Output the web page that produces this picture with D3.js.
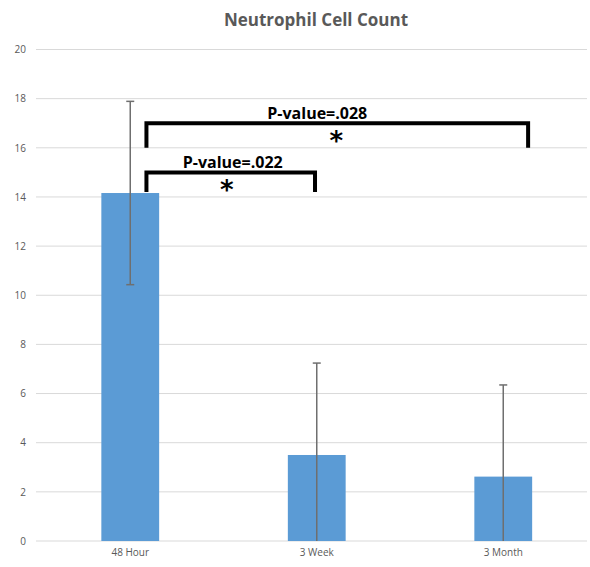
<!DOCTYPE html>
<html><head><meta charset="utf-8">
<script src="https://cdn.jsdelivr.net/npm/d3@7"></script>
<style>body{margin:0;background:#fff}svg{display:block}</style>
</head><body><svg id="c" width="590" height="567"></svg>
<script>
const categories = ["48 Hour", "3 Week", "3 Month"];
const values = [14.16, 3.5, 2.62];
const errors = [3.73, 3.74, 3.73];
const yTicks = [0, 2, 4, 6, 8, 10, 12, 14, 16, 18, 20];
const compFrom = ["48 Hour", "48 Hour"];
const compTo = ["3 Month", "3 Week"];
const compLabels = ["P-value=.028", "P-value=.022"];
const compLevel = [17.0, 15.0];
const compLegEnd = [16.0, 14.2];

const svg = d3.select("#c");
const x = d3.scaleBand().domain(categories).range([37, 596.5]).paddingInner(0.69).paddingOuter(0.345);
const y = d3.scaleLinear().domain([0, 20]).range([541, 49.5]);

// grid
svg.append("g").selectAll("line").data(yTicks).join("line")
  .attr("x1", 36).attr("x2", 587)
  .attr("y1", d => y(d)).attr("y2", d => y(d))
  .attr("stroke", "#d9d9d9").attr("stroke-width", 1);

// y labels
const yAxis = d3.axisLeft(y).tickValues(yTicks).tickSize(0).tickPadding(0);
const ga = svg.append("g").attr("transform", "translate(26,0)").call(yAxis);
ga.select(".domain").remove();
ga.selectAll("text").attr("fill", "#595959").attr("font-family", "Open Sans, sans-serif").attr("font-size", 10);

// x labels
const xAxis = d3.axisBottom(x).tickSize(0).tickPadding(0);
const gx = svg.append("g").attr("transform", "translate(0,549)").call(xAxis);
gx.select(".domain").remove();
gx.selectAll("text").attr("fill", "#595959").attr("font-family", "Open Sans, sans-serif").attr("font-size", 10);

// bars
svg.append("g").selectAll("rect").data(categories).join("rect")
  .attr("x", d => x(d)).attr("width", x.bandwidth())
  .attr("y", (d, i) => y(values[i])).attr("height", (d, i) => y(0) - y(values[i]))
  .attr("fill", "#5b9bd5");

// error bars
const eg = svg.append("g").attr("stroke", "#6f6f6f").attr("stroke-width", 1.5);
categories.forEach((c, i) => {
  const cx = x(c) + x.bandwidth() / 2;
  const hi = values[i] + errors[i], lo = Math.max(0, values[i] - errors[i]);
  eg.append("line").attr("x1", cx).attr("x2", cx).attr("y1", y(hi)).attr("y2", y(lo));
  eg.append("line").attr("x1", cx - 4).attr("x2", cx + 4).attr("y1", y(hi)).attr("y2", y(hi));
  if (values[i] - errors[i] > 0)
    eg.append("line").attr("x1", cx - 4).attr("x2", cx + 4).attr("y1", y(lo)).attr("y2", y(lo));
});

// significance brackets
const bw = x.bandwidth();
const labelShift = [-20, 2];
const starShift = [-1, -4];
compLabels.forEach((lab, i) => {
  const x1 = x(compFrom[i]) + bw * 0.78;
  const x2 = i === 0 ? x(compTo[i]) + bw * 0.93 : x(compTo[i]) + bw * 0.47;
  const yl = y(compLevel[i]), ye = y(compLegEnd[i]);
  svg.append("path")
    .attr("d", `M${x1},${ye}V${yl}H${x2}V${ye}`)
    .attr("fill", "none").attr("stroke", "#000").attr("stroke-width", 4).attr("stroke-linejoin", "miter");
  const mid = (x1 + x2) / 2;
  svg.append("text").attr("x", mid + labelShift[i]).attr("y", yl - 4.5).attr("text-anchor", "middle")
    .attr("font-family", "Open Sans, sans-serif").attr("font-weight", "bold").attr("font-size", 16)
    .attr("fill", "#000").text(lab);
  svg.append("text").attr("x", mid + starShift[i]).attr("y", yl + 27).attr("text-anchor", "middle")
    .attr("font-family", "DejaVu Sans, sans-serif").attr("font-weight", "bold").attr("font-size", 26)
    .attr("fill", "#000").text("*");
});

// title
svg.append("text").attr("x", 316).attr("y", 26).attr("text-anchor", "middle")
  .attr("font-family", "Open Sans, sans-serif").attr("font-weight", "bold").attr("font-size", 17)
  .attr("fill", "#595959").text("Neutrophil Cell Count");
</script></body></html>
